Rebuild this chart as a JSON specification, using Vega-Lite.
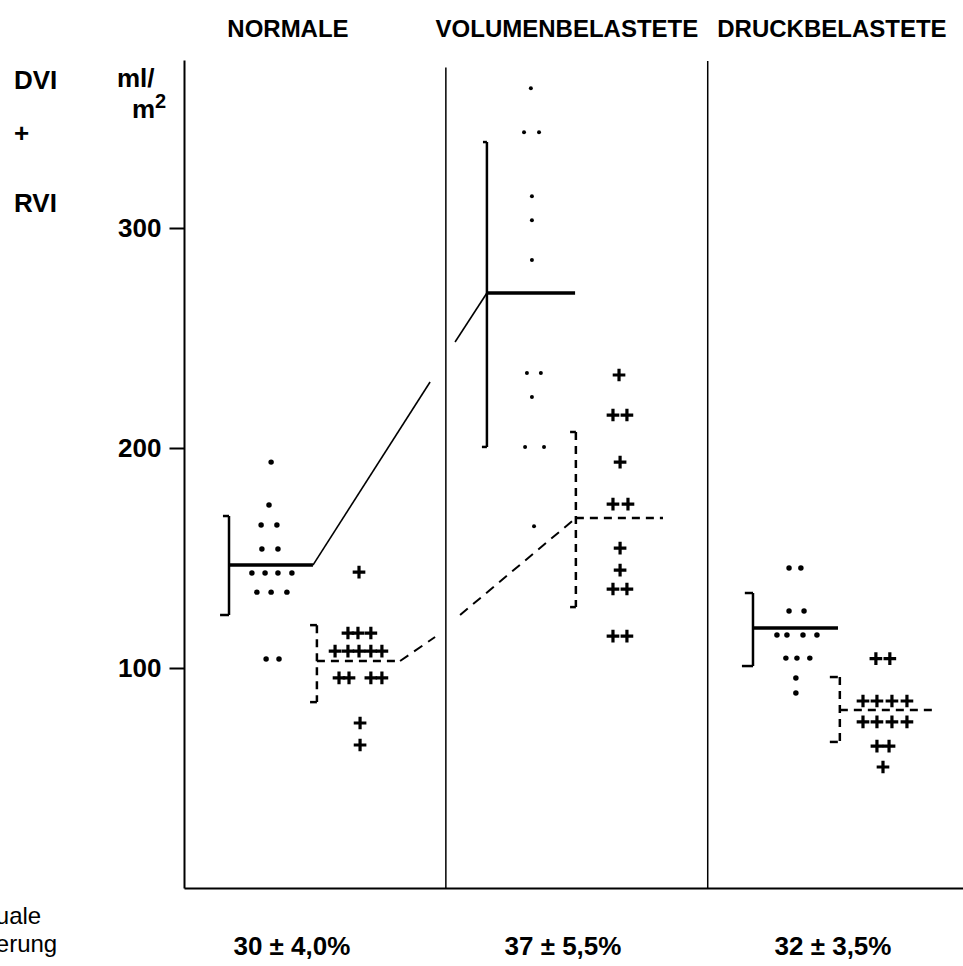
{
  "$schema": "https://vega.github.io/schema/vega-lite/v6.json",
  "width": 779,
  "height": 828,
  "autosize": "none",
  "padding": {"left": 184, "top": 60, "right": 0, "bottom": 78},
  "background": "white",
  "config": {"view": {"stroke": null}, "font": "Liberation Sans"},
  "datasets": {
    "dots": [
      {"group": "Normale", "x": 0.331, "y": 193.6}, {"group": "Normale", "x": 0.323, "y": 174.1},
      {"group": "Normale", "x": 0.293, "y": 165.0}, {"group": "Normale", "x": 0.353, "y": 165.0},
      {"group": "Normale", "x": 0.296, "y": 154.1}, {"group": "Normale", "x": 0.357, "y": 154.1},
      {"group": "Normale", "x": 0.258, "y": 143.2}, {"group": "Normale", "x": 0.308, "y": 143.2},
      {"group": "Normale", "x": 0.357, "y": 143.2}, {"group": "Normale", "x": 0.410, "y": 143.2},
      {"group": "Normale", "x": 0.277, "y": 134.5}, {"group": "Normale", "x": 0.331, "y": 134.5},
      {"group": "Normale", "x": 0.391, "y": 134.5}, {"group": "Normale", "x": 0.312, "y": 104.1},
      {"group": "Normale", "x": 0.361, "y": 104.1},
      {"group": "Volumen", "x": 1.318, "y": 363.6}, {"group": "Volumen", "x": 1.292, "y": 343.6},
      {"group": "Volumen", "x": 1.349, "y": 343.6}, {"group": "Volumen", "x": 1.322, "y": 314.5},
      {"group": "Volumen", "x": 1.322, "y": 303.6}, {"group": "Volumen", "x": 1.322, "y": 285.5},
      {"group": "Volumen", "x": 1.303, "y": 234.1}, {"group": "Volumen", "x": 1.356, "y": 234.1},
      {"group": "Volumen", "x": 1.322, "y": 223.2}, {"group": "Volumen", "x": 1.296, "y": 200.5},
      {"group": "Volumen", "x": 1.368, "y": 200.5}, {"group": "Volumen", "x": 1.330, "y": 164.5},
      {"group": "Druck", "x": 2.299, "y": 145.5}, {"group": "Druck", "x": 2.344, "y": 145.5},
      {"group": "Druck", "x": 2.299, "y": 125.9}, {"group": "Druck", "x": 2.356, "y": 125.9},
      {"group": "Druck", "x": 2.253, "y": 115.0}, {"group": "Druck", "x": 2.291, "y": 115.0},
      {"group": "Druck", "x": 2.352, "y": 115.0}, {"group": "Druck", "x": 2.405, "y": 115.0},
      {"group": "Druck", "x": 2.287, "y": 104.5}, {"group": "Druck", "x": 2.329, "y": 104.5},
      {"group": "Druck", "x": 2.378, "y": 104.5}, {"group": "Druck", "x": 2.325, "y": 95.5},
      {"group": "Druck", "x": 2.325, "y": 88.6}
    ],
    "plus": [
      {"group": "Normale", "x": 0.665, "y": 143.6},
      {"group": "Normale", "x": 0.623, "y": 115.9}, {"group": "Normale", "x": 0.661, "y": 115.9},
      {"group": "Normale", "x": 0.710, "y": 115.9},
      {"group": "Normale", "x": 0.574, "y": 107.7}, {"group": "Normale", "x": 0.623, "y": 107.7},
      {"group": "Normale", "x": 0.665, "y": 107.7}, {"group": "Normale", "x": 0.710, "y": 107.7},
      {"group": "Normale", "x": 0.752, "y": 107.7},
      {"group": "Normale", "x": 0.589, "y": 95.5}, {"group": "Normale", "x": 0.627, "y": 95.5},
      {"group": "Normale", "x": 0.710, "y": 95.5}, {"group": "Normale", "x": 0.752, "y": 95.5},
      {"group": "Normale", "x": 0.669, "y": 75.0}, {"group": "Normale", "x": 0.669, "y": 65.0},
      {"group": "Volumen", "x": 1.653, "y": 233.2},
      {"group": "Volumen", "x": 1.630, "y": 215.0}, {"group": "Volumen", "x": 1.683, "y": 215.0},
      {"group": "Volumen", "x": 1.657, "y": 193.6},
      {"group": "Volumen", "x": 1.630, "y": 174.5}, {"group": "Volumen", "x": 1.687, "y": 174.5},
      {"group": "Volumen", "x": 1.657, "y": 154.5}, {"group": "Volumen", "x": 1.657, "y": 144.5},
      {"group": "Volumen", "x": 1.630, "y": 135.9}, {"group": "Volumen", "x": 1.683, "y": 135.9},
      {"group": "Volumen", "x": 1.630, "y": 114.5}, {"group": "Volumen", "x": 1.683, "y": 114.5},
      {"group": "Druck", "x": 2.629, "y": 104.3}, {"group": "Druck", "x": 2.682, "y": 104.3},
      {"group": "Druck", "x": 2.580, "y": 85.0}, {"group": "Druck", "x": 2.633, "y": 85.0},
      {"group": "Druck", "x": 2.690, "y": 85.0}, {"group": "Druck", "x": 2.747, "y": 85.0},
      {"group": "Druck", "x": 2.580, "y": 75.5}, {"group": "Druck", "x": 2.633, "y": 75.5},
      {"group": "Druck", "x": 2.690, "y": 75.5}, {"group": "Druck", "x": 2.747, "y": 75.5},
      {"group": "Druck", "x": 2.633, "y": 64.5}, {"group": "Druck", "x": 2.679, "y": 64.5},
      {"group": "Druck", "x": 2.656, "y": 55.0}
    ],
    "segs": [
      {"series": "DVI", "part": "mean", "x": 0.171, "y": 146.8, "x2": 0.490, "y2": 146.8},
      {"series": "DVI", "part": "sd", "x": 0.171, "y": 169.1, "x2": 0.171, "y2": 124.1},
      {"series": "DVI", "part": "sd", "x": 0.148, "y": 169.1, "x2": 0.171, "y2": 169.1},
      {"series": "DVI", "part": "sd", "x": 0.137, "y": 124.1, "x2": 0.171, "y2": 124.1},
      {"series": "DVI", "part": "link", "x": 0.490, "y": 146.8, "x2": 0.935, "y2": 230.0},
      {"series": "DVI", "part": "link", "x": 1.030, "y": 248.2, "x2": 1.151, "y2": 270.5},
      {"series": "DVI", "part": "mean", "x": 1.151, "y": 270.5, "x2": 1.486, "y2": 270.5},
      {"series": "DVI", "part": "sd", "x": 1.151, "y": 339.1, "x2": 1.151, "y2": 200.5},
      {"series": "DVI", "part": "sd", "x": 1.136, "y": 339.1, "x2": 1.151, "y2": 339.1},
      {"series": "DVI", "part": "sd", "x": 1.132, "y": 200.5, "x2": 1.151, "y2": 200.5},
      {"series": "DVI", "part": "mean", "x": 2.162, "y": 118.2, "x2": 2.485, "y2": 118.2},
      {"series": "DVI", "part": "sd", "x": 2.162, "y": 134.1, "x2": 2.162, "y2": 100.9},
      {"series": "DVI", "part": "sd", "x": 2.131, "y": 134.1, "x2": 2.162, "y2": 134.1},
      {"series": "DVI", "part": "sd", "x": 2.120, "y": 100.9, "x2": 2.162, "y2": 100.9},
      {"series": "RVI", "part": "mean", "x": 0.505, "y": 103.2, "x2": 0.821, "y2": 103.2},
      {"series": "RVI", "part": "sd", "x": 0.505, "y": 119.5, "x2": 0.505, "y2": 84.5},
      {"series": "RVI", "part": "sd", "x": 0.479, "y": 119.5, "x2": 0.505, "y2": 119.5},
      {"series": "RVI", "part": "sd", "x": 0.479, "y": 84.5, "x2": 0.505, "y2": 84.5},
      {"series": "RVI", "part": "link", "x": 0.821, "y": 103.2, "x2": 0.954, "y2": 114.1},
      {"series": "RVI", "part": "link", "x": 1.049, "y": 124.1, "x2": 1.489, "y2": 168.2},
      {"series": "RVI", "part": "mean", "x": 1.489, "y": 168.2, "x2": 1.820, "y2": 168.2},
      {"series": "RVI", "part": "sd", "x": 1.489, "y": 207.3, "x2": 1.489, "y2": 127.7},
      {"series": "RVI", "part": "sd", "x": 1.467, "y": 207.3, "x2": 1.489, "y2": 207.3},
      {"series": "RVI", "part": "sd", "x": 1.467, "y": 127.7, "x2": 1.489, "y2": 127.7},
      {"series": "RVI", "part": "mean", "x": 2.492, "y": 80.9, "x2": 2.842, "y2": 80.9},
      {"series": "RVI", "part": "sd", "x": 2.492, "y": 95.9, "x2": 2.492, "y2": 66.4},
      {"series": "RVI", "part": "sd", "x": 2.454, "y": 95.9, "x2": 2.492, "y2": 95.9},
      {"series": "RVI", "part": "sd", "x": 2.454, "y": 66.4, "x2": 2.492, "y2": 66.4},
      {"series": "frame", "part": "divider", "x": 0.995, "y": 0, "x2": 0.995, "y2": 373},
      {"series": "frame", "part": "divider", "x": 1.99, "y": 0, "x2": 1.99, "y2": 376}
    ],
    "labels": [
      {"role": "title", "text": "NORMALE", "x": 0.395, "y": 386.8},
      {"role": "title", "text": "VOLUMENBELASTETE", "x": 1.455, "y": 386.8},
      {"role": "title", "text": "DRUCKBELASTETE", "x": 2.462, "y": 386.8},
      {"role": "side", "text": "DVI", "x": -0.646, "y": 363.2},
      {"role": "side", "text": "+", "x": -0.646, "y": 339.1},
      {"role": "side", "text": "RVI", "x": -0.646, "y": 307.3},
      {"role": "side", "text": "ml/", "x": -0.255, "y": 364.1},
      {"role": "side", "text": "m", "x": -0.198, "y": 350.0},
      {"role": "sup", "text": "2", "x": -0.110, "y": 354.5},
      {"role": "note", "text": "uale", "x": -0.715, "y": -16.4},
      {"role": "note", "text": "erung", "x": -0.715, "y": -29.1},
      {"role": "pct", "text": "30 ± 4,0%", "x": 0.410, "y": -30.5},
      {"role": "pct", "text": "37 ± 5,5%", "x": 1.440, "y": -30.5},
      {"role": "pct", "text": "32 ± 3,5%", "x": 2.466, "y": -30.5}
    ]
  },
  "encoding": {
    "x": {
      "field": "x", "type": "quantitative",
      "scale": {"domain": [0, 2.96], "nice": false, "zero": false},
      "axis": {"labels": false, "ticks": false, "grid": false, "title": null, "domainColor": "black", "domainWidth": 2}
    },
    "y": {
      "field": "y", "type": "quantitative",
      "scale": {"domain": [0, 376.4], "nice": false},
      "axis": {"values": [100, 200, 300], "grid": false, "title": null, "domainColor": "black", "domainWidth": 2,
               "tickColor": "black", "tickWidth": 2, "tickSize": 15, "labelPadding": 8,
               "labelFontSize": 26, "labelFontWeight": "bold", "labelColor": "black", "labelFont": "Liberation Sans"}
    }
  },
  "layer": [
    {
      "data": {"name": "segs"},
      "transform": [{"filter": "datum.part === 'divider'"}],
      "mark": {"type": "rule", "color": "black", "strokeWidth": 1.5},
      "encoding": {"x2": {"field": "x2"}, "y2": {"field": "y2"}}
    },
    {
      "data": {"name": "segs"},
      "transform": [{"filter": "datum.series === 'DVI' && datum.part === 'mean'"}],
      "mark": {"type": "rule", "color": "black", "strokeWidth": 3.5},
      "encoding": {"x2": {"field": "x2"}, "y2": {"field": "y2"}}
    },
    {
      "data": {"name": "segs"},
      "transform": [{"filter": "datum.series === 'DVI' && datum.part === 'sd'"}],
      "mark": {"type": "rule", "color": "black", "strokeWidth": 2.5},
      "encoding": {"x2": {"field": "x2"}, "y2": {"field": "y2"}}
    },
    {
      "data": {"name": "segs"},
      "transform": [{"filter": "datum.series === 'DVI' && datum.part === 'link'"}],
      "mark": {"type": "rule", "color": "black", "strokeWidth": 1.6},
      "encoding": {"x2": {"field": "x2"}, "y2": {"field": "y2"}}
    },
    {
      "data": {"name": "segs"},
      "transform": [{"filter": "datum.series === 'RVI' && datum.part !== 'link'"}],
      "mark": {"type": "rule", "color": "black", "strokeWidth": 2.5, "strokeDash": [8, 6]},
      "encoding": {"x2": {"field": "x2"}, "y2": {"field": "y2"}}
    },
    {
      "data": {"name": "segs"},
      "transform": [{"filter": "datum.series === 'RVI' && datum.part === 'link'"}],
      "mark": {"type": "rule", "color": "black", "strokeWidth": 2, "strokeDash": [10, 7]},
      "encoding": {"x2": {"field": "x2"}, "y2": {"field": "y2"}}
    },
    {
      "data": {"name": "dots"},
      "transform": [{"filter": "datum.group !== 'Volumen'"}],
      "mark": {"type": "point", "shape": "circle", "filled": true, "color": "black", "opacity": 1, "size": 30}
    },
    {
      "data": {"name": "dots"},
      "transform": [{"filter": "datum.group === 'Volumen'"}],
      "mark": {"type": "point", "shape": "circle", "filled": true, "color": "black", "opacity": 1, "size": 16}
    },
    {
      "data": {"name": "plus"},
      "mark": {"type": "point", "shape": "M-1,0H1M0,-1V1", "filled": false, "color": "black", "opacity": 1, "strokeWidth": 3.2, "size": 160}
    },
    {
      "data": {"name": "labels"},
      "transform": [{"filter": "datum.role === 'title'"}],
      "mark": {"type": "text", "align": "center", "baseline": "alphabetic", "fontSize": 24, "fontWeight": "bold", "color": "black"},
      "encoding": {"text": {"field": "text"}}
    },
    {
      "data": {"name": "labels"},
      "transform": [{"filter": "datum.role === 'side'"}],
      "mark": {"type": "text", "align": "left", "baseline": "alphabetic", "fontSize": 26, "fontWeight": "bold", "color": "black"},
      "encoding": {"text": {"field": "text"}}
    },
    {
      "data": {"name": "labels"},
      "transform": [{"filter": "datum.role === 'sup'"}],
      "mark": {"type": "text", "align": "left", "baseline": "alphabetic", "fontSize": 20, "fontWeight": "bold", "color": "black"},
      "encoding": {"text": {"field": "text"}}
    },
    {
      "data": {"name": "labels"},
      "transform": [{"filter": "datum.role === 'note'"}],
      "mark": {"type": "text", "align": "left", "baseline": "alphabetic", "fontSize": 24, "fontWeight": "normal", "color": "black"},
      "encoding": {"text": {"field": "text"}}
    },
    {
      "data": {"name": "labels"},
      "transform": [{"filter": "datum.role === 'pct'"}],
      "mark": {"type": "text", "align": "center", "baseline": "alphabetic", "fontSize": 26, "fontWeight": "bold", "color": "black"},
      "encoding": {"text": {"field": "text"}}
    }
  ]
}
